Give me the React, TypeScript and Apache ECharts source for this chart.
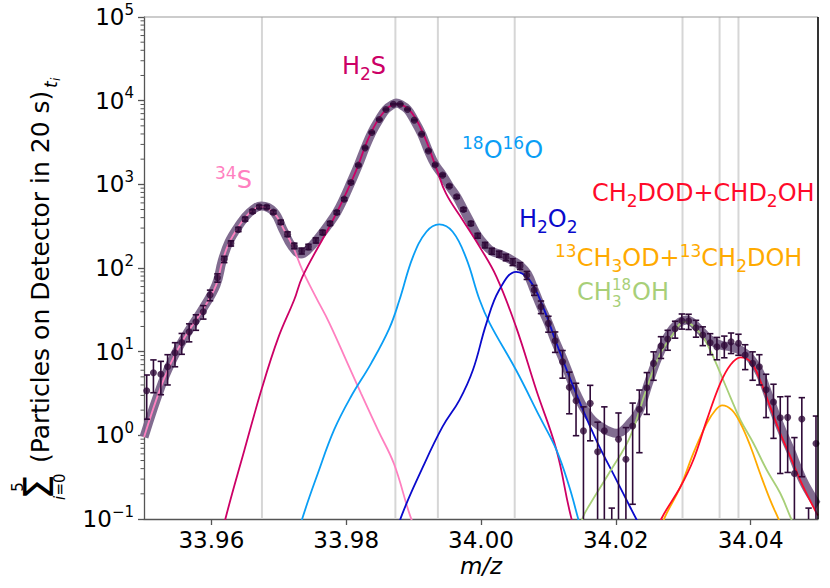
import React, { useEffect, useRef } from "react";
import * as echarts from "echarts";

const FONT = "DejaVu Sans";
const X_MIN = 33.95;
const X_MAX = 34.05;
const Y_MIN = 0.1;
const Y_MAX = 100000;

const xTickLabels = ["33.96", "33.98", "34.00", "34.02", "34.04"];
const yTickExponents = [-1, 0, 1, 2, 3, 4, 5];
const yMinorMantissas = [2, 3, 4, 5, 6, 7, 8, 9];
const yMinorDecades = [0.1, 1, 10, 100, 1000, 10000];

const peakLines = [33.9675, 33.9873, 33.9936, 34.005, 34.0299, 34.0354, 34.0382];

// measured data points (counts) with Poisson error bars
const dataMz = [
  33.9504, 33.9514, 33.9525, 33.9535, 33.9546, 33.9556, 33.9567, 33.9577, 33.9588, 33.9598,
  33.9609, 33.9619, 33.9629, 33.964, 33.965, 33.9661, 33.9671, 33.9682, 33.9692, 33.9703,
  33.9713, 33.9723, 33.9734, 33.9744, 33.9755, 33.9765, 33.9776, 33.9786, 33.9797, 33.9807,
  33.9818, 33.9828, 33.9838, 33.9849, 33.9859, 33.987, 33.988, 33.9891, 33.9901, 33.9912,
  33.9922, 33.9932, 33.9943, 33.9953, 33.9964, 33.9974, 33.9985, 33.9995, 34.0006, 34.0016,
  34.0027, 34.0037, 34.0047, 34.0058, 34.0068, 34.0079, 34.0089, 34.01, 34.011, 34.0121,
  34.0131, 34.0141, 34.0152, 34.0162, 34.0173, 34.0183, 34.0194, 34.0204, 34.0215, 34.0225,
  34.0235, 34.0246, 34.0256, 34.0267, 34.0277, 34.0288, 34.0298, 34.0308, 34.0319, 34.0329,
  34.034, 34.035, 34.0361, 34.0371, 34.0382, 34.0392, 34.0403, 34.0413, 34.0423, 34.0434,
  34.0444, 34.0455, 34.0465, 34.0476, 34.0486, 34.0497,
];
const dataCounts = [
  3.41, 5.6, 5.36, 6.6, 9.7, 12.9, 17.3, 22.8, 30.0, 47.5,
  76.4, 127, 197, 289, 384, 475, 538, 534, 465, 353,
  254, 184, 160, 179, 214, 266, 341, 462, 665, 1054,
  1695, 2729, 4169, 5960, 7850, 9080, 9080, 7850, 5850, 3980,
  2512, 1710, 1288, 952, 710, 501, 341, 243, 188, 159,
  147, 134, 118, 106, 82, 54.5, 34.4, 21.8, 13.5, 7.57,
  3.75, 2.59, 1.13, 2.41, 0.637, 1.13, 0.015, 0.9, 0.517, 1.29,
  2.05, 3.7, 7.25, 11.7, 14.2, 18.8, 23.4, 23.2, 19.3, 15.8,
  12.8, 11.4, 11.9, 13.1, 12.6, 9.1, 7.25, 6.6, 3.5, 2.5,
  1.62, 1.64, 0.35, 1.57, 0.015, 0.8,
];
const dataErr = [
  1.85, 2.37, 2.3, 2.6, 3.1, 3.6, 4.2, 4.8, 5.5, 6.9,
  8.7, 11, 14, 17, 20, 22, 23, 23, 22, 19,
  16, 14, 13, 13, 15, 16, 18, 21, 26, 32,
  41, 52, 65, 77, 89, 95, 95, 89, 76, 63,
  50, 41, 36, 31, 27, 22, 18, 16, 14, 13,
  12, 12, 11, 10, 9, 7.4, 5.9, 4.7, 3.7, 2.75,
  1.94, 1.6, 1.06, 1.55, 0.8, 1.06, 0.12, 0.95, 0.72, 1.14,
  1.43, 1.92, 2.7, 3.4, 3.8, 4.3, 4.8, 4.8, 4.4, 4.0,
  3.6, 3.4, 3.45, 3.6, 3.55, 3.0, 2.7, 2.6, 1.87, 1.58,
  1.27, 1.28, 0.59, 1.25, 0.12, 0.9,
];

// total fit
const totalMz = [
  33.95, 33.9527, 33.9547, 33.9567, 33.9587, 33.9607, 33.9616, 33.9626, 33.9641, 33.9656,
  33.9674, 33.9693, 33.9706, 33.972, 33.9733, 33.9745, 33.976, 33.9775, 33.9786, 33.9796,
  33.9807, 33.9818, 33.9828, 33.9838, 33.9849, 33.9859, 33.987, 33.9874, 33.988, 33.9891,
  33.9901, 33.9912, 33.9922, 33.9932, 33.9943, 33.9953, 33.9964, 33.9974, 33.9985, 33.9995,
  34.0006, 34.0016, 34.0027, 34.0038, 34.0048, 34.0058, 34.0069, 34.0079, 34.0089, 34.01,
  34.011, 34.0121, 34.0131, 34.0141, 34.0161, 34.0181, 34.0201, 34.0225, 34.0235, 34.025,
  34.0265, 34.0285, 34.0305, 34.0325, 34.034, 34.0355, 34.037, 34.0385, 34.04, 34.0414,
  34.0429, 34.0444, 34.0459, 34.0478, 34.0498, 34.05,
];
const totalVal = [
  0.95, 4.21, 9.6, 18.2, 32.3, 63, 121, 204, 323, 456,
  549, 465, 290, 179, 147, 171, 236, 341, 462, 665,
  1054, 1695, 2729, 4169, 5960, 7850, 9080, 9350, 9080, 7850,
  5850, 3980, 2512, 1710, 1288, 952, 710, 501, 341, 243,
  188, 159, 147, 134, 121, 107, 85, 54.5, 34.4, 21.8,
  13.5, 8.4, 5.25, 3.2, 1.67, 1.22, 1.06, 1.52, 2.0, 4.58,
  9.55, 19.0, 23.9, 18.1, 13.8, 12.0, 11.4, 10.4, 8.32, 5.5,
  2.64, 1.27, 0.667, 0.285, 0.15, 0.145,
];

// components
const s34Mz = [33.95, 33.9527, 33.9547, 33.9567, 33.9587, 33.9607, 33.9616, 33.9626, 33.9641, 33.9656, 33.9673, 33.9693, 33.9708, 33.972, 33.9735, 33.9755, 33.9775, 33.9802, 33.9822, 33.9847, 33.9871, 33.9896, 33.991];
const s34Val = [0.95, 4.18, 9.55, 18.1, 31.4, 62.5, 118, 198, 317, 453, 542, 453, 284, 188, 94.4, 44.9, 22.0, 7.25, 3.18, 1.16, 0.454, 0.103, 0.06];

const h2sMz = [33.961, 33.9621, 33.9649, 33.9675, 33.9699, 33.9723, 33.9735, 33.9775, 33.9795, 33.9815, 33.9834, 33.9854, 33.9874, 33.9894, 33.9914, 33.9933, 33.9948, 33.9973, 33.9998, 34.0023, 34.0052, 34.0082, 34.0112, 34.0134, 34.0146];
const h2sVal = [0.04, 0.102, 0.667, 3.67, 14.5, 42, 78.5, 311, 648, 1479, 3696, 7030, 9080, 7700, 4056, 1619, 778, 373, 179, 78.5, 19.8, 3.48, 0.667, 0.103, 0.06];

const o2Mz = [33.9725, 33.9735, 33.9758, 33.9782, 33.9807, 33.9837, 33.9864, 33.9879, 33.9899, 33.9919, 33.9938, 33.9958, 33.9978, 33.9998, 34.0013, 34.0052, 34.0087, 34.0112, 34.0131, 34.0144, 34.0152];
const o2Val = [0.05, 0.102, 0.352, 1.16, 2.89, 7.25, 19.0, 41.4, 136, 271, 332, 271, 131, 41.4, 21.8, 6.03, 1.67, 0.667, 0.243, 0.102, 0.06];

const h2o2Mz = [33.9875, 33.9881, 33.9914, 33.9943, 33.9968, 33.9988, 34.0008, 34.0027, 34.0052, 34.0072, 34.0092, 34.0112, 34.0141, 34.0171, 34.0201, 34.0221, 34.0235];
const h2o2Val = [0.06, 0.103, 0.422, 1.27, 2.64, 6.03, 21.8, 54.5, 90.1, 71.7, 34.4, 12.6, 3.18, 0.879, 0.292, 0.14, 0.085];

const ch2dodMz = [34.0262, 34.0268, 34.0296, 34.0315, 34.0335, 34.0355, 34.037, 34.0385, 34.04, 34.0414, 34.0429, 34.0444, 34.0459, 34.0478, 34.0498, 34.05];
const ch2dodVal = [0.07, 0.102, 0.243, 0.507, 1.52, 4.18, 6.92, 8.55, 7.57, 4.58, 2.2, 1.06, 0.555, 0.243, 0.117, 0.11];

const c13Mz = [34.0266, 34.0272, 34.0296, 34.0315, 34.0335, 34.0348, 34.0358, 34.0372, 34.0385, 34.04, 34.0414, 34.0429, 34.0441, 34.045];
const c13Val = [0.07, 0.102, 0.243, 0.61, 1.39, 2.01, 2.28, 2.01, 1.39, 0.731, 0.352, 0.169, 0.102, 0.07];

const ch318Mz = [34.0146, 34.0151, 34.0161, 34.0191, 34.0221, 34.0245, 34.0265, 34.0285, 34.0301, 34.0325, 34.034, 34.0355, 34.037, 34.0385, 34.0404, 34.0424, 34.0444, 34.0459, 34.047];
const ch318Val = [0.07, 0.104, 0.147, 0.365, 0.954, 3.48, 9.1, 16.2, 22.9, 16.7, 10.4, 5.55, 2.87, 1.52, 0.809, 0.385, 0.203, 0.106, 0.065];

const COLORS = {
  s34: "#ff80c0",
  h2s: "#cc0066",
  o2: "#0a9ef5",
  h2o2: "#0a0acc",
  ch2dod: "#ff0a2a",
  c13: "#ffaa00",
  ch318: "#a8cf78",
  total: "#7a648a",
  data: "#2f0a38",
  peak: "#d6d6d6",
};

const pairs = (xs: number[], ys: number[]) => xs.map((x, i) => [x, ys[i]]);

const lineSeries = (name: string, xs: number[], ys: number[], color: string, width: number, z: number) => ({
  type: "line",
  name,
  data: pairs(xs, ys),
  smooth: 0.4,
  showSymbol: false,
  symbol: "none",
  lineStyle: { color, width },
  itemStyle: { color },
  z,
  silent: true,
  clip: true,
});

const chemRich = (color: string) => ({
  m: { fontFamily: FONT, fontSize: 24, lineHeight: 32, fill: color },
  u: { fontFamily: FONT, fontSize: 17, lineHeight: 17, verticalAlign: "top", fill: color },
  d: { fontFamily: FONT, fontSize: 17, lineHeight: 17, verticalAlign: "bottom", fill: color },
});

const chemLabel = (x: number, y: number, text: string, color: string) => ({
  type: "text",
  x,
  y,
  z: 100,
  silent: true,
  style: { text, align: "left", verticalAlign: "top", rich: chemRich(color) },
});

const plainText = (x: number, y: number, text: string, size: number, color: string, extra: any = {}) => ({
  type: "text",
  x,
  y,
  z: 100,
  silent: true,
  ...(extra.rotation !== undefined ? { rotation: extra.rotation } : {}),
  style: {
    text,
    fontFamily: FONT,
    fontSize: size,
    fontStyle: extra.italic ? "italic" : "normal",
    fill: color,
    align: extra.align || "left",
    verticalAlign: extra.verticalAlign || "middle",
    ...(extra.lineHeight ? { lineHeight: extra.lineHeight } : {}),
  },
});

function buildOption() {
  const minorTicks: number[] = [];
  yMinorDecades.forEach((d) => yMinorMantissas.forEach((m) => minorTicks.push(m * d)));

  const expText = (e: number) => (e < 0 ? "\u2212" + -e : String(e));
  const ROT = Math.PI / 2;

  return {
    animation: false,
    backgroundColor: "#ffffff",
    grid: { left: 144, right: 12, top: 17, bottom: 69, containLabel: false },
    xAxis: {
      type: "value",
      min: X_MIN,
      max: X_MAX,
      splitNumber: 5,
      axisLine: { show: true, lineStyle: { color: "#555555", width: 1.3 } },
      axisTick: { show: true, length: 6, lineStyle: { color: "#555555", width: 1.3 } },
      axisLabel: {
        show: true,
        margin: 9,
        color: "#000",
        fontFamily: FONT,
        fontSize: 23,
        showMinLabel: false,
        showMaxLabel: false,
        formatter: (v: number) => {
          const s = v.toFixed(2);
          return xTickLabels.indexOf(s) >= 0 && Math.abs(v - parseFloat(s)) < 1e-6 ? s : "";
        },
      },
      splitLine: { show: false },
      minorSplitLine: { show: false },
      splitArea: { show: false },
    },
    yAxis: {
      type: "log",
      logBase: 10,
      min: Y_MIN,
      max: Y_MAX,
      axisLine: { show: true, lineStyle: { color: "#555555", width: 1.3 } },
      axisTick: { show: true, length: 6, lineStyle: { color: "#555555", width: 1.3 } },
      axisLabel: {
        show: true,
        margin: 10,
        formatter: (v: number) => {
          const e = Math.round(Math.log10(v));
          return yTickExponents.indexOf(e) >= 0 ? `{b|10}{s|${expText(e)}}` : "";
        },
        rich: {
          b: { fontFamily: FONT, fontSize: 23, lineHeight: 30, color: "#000" },
          s: { fontFamily: FONT, fontSize: 15, lineHeight: 15, verticalAlign: "top", color: "#000" },
        },
      },
      splitLine: { show: false },
      minorSplitLine: { show: false },
      splitArea: { show: false },
    },
    series: [
      {
        type: "custom",
        name: "peakLines",
        z: 1,
        silent: true,
        clip: true,
        data: peakLines.map((v) => [v, Y_MIN]),
        encode: { x: 0, y: 1 },
        renderItem: (params: any, api: any) => {
          const x = api.value(0);
          const p1 = api.coord([x, Y_MIN]);
          const p2 = api.coord([x, Y_MAX]);
          return {
            type: "line",
            shape: { x1: p1[0], y1: p1[1], x2: p2[0], y2: p2[1] },
            style: { stroke: COLORS.peak, lineWidth: 2 },
          };
        },
      },
      {
        ...lineSeries("total", totalMz, totalVal, COLORS.total, 9, 2),
        lineStyle: { color: COLORS.total, width: 9, opacity: 0.95 },
      },
      lineSeries("34S", s34Mz, s34Val, COLORS.s34, 1.8, 3),
      lineSeries("H2S", h2sMz, h2sVal, COLORS.h2s, 1.8, 3),
      lineSeries("18O16O", o2Mz, o2Val, COLORS.o2, 1.8, 3),
      lineSeries("H2O2", h2o2Mz, h2o2Val, COLORS.h2o2, 1.8, 3),
      lineSeries("CH3 18OH", ch318Mz, ch318Val, COLORS.ch318, 1.8, 3),
      lineSeries("13C", c13Mz, c13Val, COLORS.c13, 1.8, 3),
      lineSeries("CH2DOD", ch2dodMz, ch2dodVal, COLORS.ch2dod, 1.8, 3),
      {
        type: "custom",
        name: "errors",
        z: 4,
        clip: true,
        silent: true,
        data: dataMz.map((x, i) => [x, dataCounts[i], dataErr[i]]),
        encode: { x: 0, y: 1 },
        renderItem: (params: any, api: any) => {
          const x = api.value(0);
          const y = api.value(1);
          const e = api.value(2);
          const cs = params.coordSys;
          const top = api.coord([x, y + e]);
          const low = y - e;
          const bottomY = low > 0 ? api.coord([x, low])[1] : cs.y + cs.height + 4;
          const st = { stroke: COLORS.data, lineWidth: 1.6 };
          const children: any[] = [
            { type: "line", shape: { x1: top[0], y1: top[1], x2: top[0], y2: bottomY }, style: st },
            { type: "line", shape: { x1: top[0] - 3.2, y1: top[1], x2: top[0] + 3.2, y2: top[1] }, style: st },
          ];
          if (low > 0) {
            children.push({ type: "line", shape: { x1: top[0] - 3.2, y1: bottomY, x2: top[0] + 3.2, y2: bottomY }, style: st });
          }
          return { type: "group", children };
        },
      },
      {
        type: "scatter",
        name: "data",
        data: pairs(dataMz, dataCounts),
        symbol: "circle",
        symbolSize: 7,
        itemStyle: { color: COLORS.data },
        z: 5,
        silent: true,
        clip: true,
      },
      {
        type: "custom",
        name: "minorTicks",
        z: 10,
        clip: false,
        silent: true,
        data: minorTicks.map((v) => [X_MIN, v]),
        encode: { x: 0, y: 1 },
        renderItem: (params: any, api: any) => {
          const p = api.coord([api.value(0), api.value(1)]);
          return {
            type: "line",
            shape: { x1: p[0] - 3.5, y1: p[1], x2: p[0], y2: p[1] },
            style: { stroke: "#555555", lineWidth: 1 },
          };
        },
      },
    ],
    graphic: [
      { type: "line", silent: true, z: 50, shape: { x1: 144, y1: 17, x2: 818, y2: 17 }, style: { stroke: "#999999", lineWidth: 1.2 } },
      { type: "line", silent: true, z: 50, shape: { x1: 818, y1: 17, x2: 818, y2: 519 }, style: { stroke: "#000000", lineWidth: 1.6 } },
      chemLabel(215, 164, "{u|34}{m|S}", COLORS.s34),
      chemLabel(342, 50, "{m|H}{d|2}{m|S}", COLORS.h2s),
      chemLabel(462, 134, "{u|18}{m|O}{u|16}{m|O}", COLORS.o2),
      chemLabel(519, 203, "{m|H}{d|2}{m|O}{d|2}", COLORS.h2o2),
      chemLabel(592, 177, "{m|CH}{d|2}{m|DOD+CHD}{d|2}{m|OH}", COLORS.ch2dod),
      chemLabel(555, 242, "{u|13}{m|CH}{d|3}{m|OD+}{u|13}{m|CH}{d|2}{m|DOH}", COLORS.c13),
      // CH3^18OH with stacked sub/superscript
      plainText(577, 292, "CH", 24, COLORS.ch318, { lineHeight: 24 }),
      plainText(612, 285, "18", 15, COLORS.ch318, { lineHeight: 15 }),
      plainText(612, 302, "3", 15, COLORS.ch318, { lineHeight: 15 }),
      plainText(632, 292, "OH", 24, COLORS.ch318, { lineHeight: 24 }),
      // x-axis title
      plainText(481, 566, "m/z", 23, "#000", { italic: true, align: "center" }),
      // y-axis title (rotated)
      plainText(39, 487, "\u03a3", 40, "#000", { rotation: ROT, align: "center" }),
      plainText(18, 487, "5", 15, "#000", { rotation: ROT, align: "center" }),
      plainText(60, 500, "i", 15, "#000", { rotation: ROT, italic: true, align: "left" }),
      plainText(60, 495.5, "=0", 15, "#000", { rotation: ROT, align: "left" }),
      plainText(40, 463, "(Particles on Detector in 20 s)", 25, "#000", { rotation: ROT, align: "left" }),
      plainText(51, 88, "t", 17, "#000", { rotation: ROT, italic: true, align: "left" }),
      plainText(56, 81, "i", 12, "#000", { rotation: ROT, italic: true, align: "left" }),
    ],
  };
}

export default function App() {
  const ref = useRef<HTMLDivElement>(null);
  useEffect(() => {
    document.body.style.margin = "0";
    if (!ref.current) return;
    const chart = echarts.init(ref.current, null, { renderer: "svg" });
    chart.setOption(buildOption() as any);
    return () => chart.dispose();
  }, []);
  return <div ref={ref} style={{ width: 830, height: 588, background: "#fff" }} />;
}
